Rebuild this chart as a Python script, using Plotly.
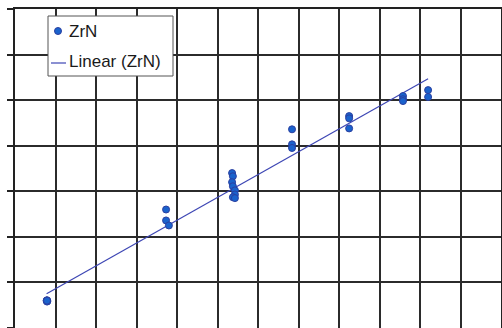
import numpy as np
import plotly.graph_objects as go

# ZrN measurements (arbitrary units on both axes)
zrn_x = [0.78, 0.79, 0.79, 0.80, 0.79,
         3.73, 3.73, 3.80,
         5.36, 5.38, 5.36, 5.38, 5.43, 5.43, 5.38, 5.43,
         6.84, 6.84, 6.84,
         8.25, 8.25, 8.25,
         9.58, 9.58, 9.58,
         10.20, 10.20]
zrn_y = [0.60, 0.58, 0.61, 0.59, 0.60,
         2.60, 2.36, 2.25,
         3.40, 3.33, 3.20, 3.11, 3.02, 2.93, 2.87, 2.85,
         4.36, 4.03, 3.95,
         4.65, 4.60, 4.38,
         5.09, 5.02, 4.98,
         5.22, 5.07]

x_ticks = list(range(0, 13))
y_ticks = list(range(0, 8))

W, H = 502, 328
ML, MR, MT, MB = 15, 1, 9, 0


def px(x):
    return (x - ML) / (W - ML - MR)


def py(y):
    return (H - MB - y) / (H - MT - MB)


# least-squares trend line across the data range
slope, intercept = np.polyfit(zrn_x, zrn_y, 1)
tx = np.array([min(zrn_x), max(zrn_x)])
ty = slope * tx + intercept

marker_fill = "#1a62cc"
marker_edge = "#2b3fa0"
trend_color = "#3d46b4"
grid_color = "#2b2b2b"

fig = go.Figure()
fig.add_trace(go.Scatter(
    x=tx, y=ty, mode="lines", name="Linear (ZrN)",
    line=dict(color=trend_color, width=1.2), showlegend=False,
))
fig.add_trace(go.Scatter(
    x=zrn_x, y=zrn_y, mode="markers", name="ZrN",
    marker=dict(size=7, color=marker_fill, line=dict(color=marker_edge, width=1)),
    showlegend=False,
))

axis_common = dict(
    showgrid=True, gridcolor=grid_color, gridwidth=1.5,
    showticklabels=False, zeroline=False,
    showline=True, linecolor="#222", linewidth=1.5, mirror=True,
)
fig.update_xaxes(range=[0, 12], tickvals=x_ticks, ticks="", **axis_common)
fig.update_yaxes(range=[0, 7], tickvals=y_ticks, ticks="outside", ticklen=6,
                 tickcolor="#222", tickwidth=1.5, **axis_common)

# legend box
legend_font = dict(family="Liberation Sans, Arial, sans-serif", size=17, color="#1a1a1a")
shapes = [
    dict(type="rect", xref="paper", yref="paper",
         x0=px(48), x1=px(173), y0=py(76), y1=py(16),
         fillcolor="white", line=dict(color="#555", width=1), layer="above"),
    dict(type="circle", xref="paper", yref="paper",
         x0=px(54.5), x1=px(61.5), y0=py(34.5), y1=py(27.5),
         fillcolor=marker_fill, line=dict(color=marker_edge, width=1), layer="above"),
    dict(type="line", xref="paper", yref="paper",
         x0=px(51), x1=px(66), y0=py(63), y1=py(63),
         line=dict(color=trend_color, width=1.2), layer="above"),
]
annotations = [
    dict(text="ZrN", xref="paper", yref="paper", x=px(67), y=py(31),
         xanchor="left", yanchor="middle", showarrow=False, font=legend_font),
    dict(text="Linear (ZrN)", xref="paper", yref="paper", x=px(67), y=py(62),
         xanchor="left", yanchor="middle", showarrow=False, font=legend_font),
]

fig.update_layout(
    width=W, height=H,
    margin=dict(l=ML, r=MR, t=MT, b=MB),
    paper_bgcolor="white", plot_bgcolor="white",
    shapes=shapes, annotations=annotations,
    showlegend=False,
)

fig.write_html("out.html")
